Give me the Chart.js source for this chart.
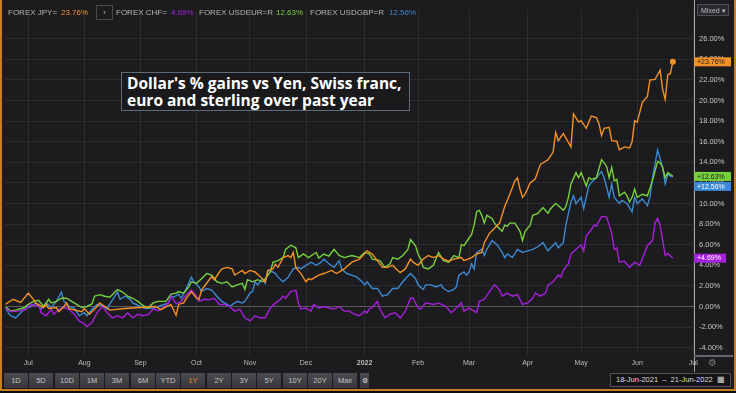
<!DOCTYPE html>
<html>
<head>
<meta charset="utf-8">
<script src="https://cdn.jsdelivr.net/npm/chart.js@4.4.0/dist/chart.umd.min.js"></script>
<style>
body { margin:0; background:#0d0d0d; width:736px; height:393px; overflow:hidden; font-family:"Liberation Sans", Arial, sans-serif; }
#bg { position:absolute; left:0; top:0; width:736px; height:391px; background:#1c1c1f; }
#chart { position:absolute; left:0; top:0; }
#frame { position:absolute; left:0; top:0; width:732px; height:389px; border-left:2px solid #c97d25; border-right:2px solid #c97d25; border-bottom:2px solid #c97d25; pointer-events:none; }
.hd { position:absolute; top:8px; font-size:8px; color:#b4b4b4; white-space:nowrap; }
#back { position:absolute; left:96px; top:5px; width:15px; height:13px; border:1px solid #4a4a4e; color:#bbb; font-size:8px; text-align:center; line-height:13px; }
#mixed { position:absolute; left:697px; top:4px; height:12px; background:#2a2a2e; border:1px solid #4d4d52; color:#bbb; font-size:7px; line-height:12px; padding-left:3px; box-sizing:border-box; width:32px; }
#title { position:absolute; left:121px; top:72px; width:289px; height:39px; box-sizing:border-box; border:1px solid #5d6c78; background:#1a1a1c; color:#fff; font-family:"Open Sans", sans-serif; font-weight:700; font-size:15.5px; line-height:17px; padding:2px 0 0 5px; white-space:nowrap; overflow:hidden; }
.btn { position:absolute; top:373px; width:24px; height:15px; background:linear-gradient(#4a4a4f, #37373b); color:#c4c4c4; font-size:7.5px; text-align:center; line-height:15px; }
#dates { position:absolute; left:610px; top:373px; width:121px; height:14px; box-sizing:border-box; border:1px solid #505055; background:#141416; color:#dcdcdc; font-size:7.5px; line-height:12px; padding-left:5px; white-space:nowrap; }
#gear { position:absolute; left:708px; top:357px; color:#7a7a7e; font-size:10px; font-family:"DejaVu Sans", sans-serif; }
</style>
</head>
<body>
<div id="bg"></div>
<canvas id="chart" width="736" height="372"></canvas>
<div id="header"></div>
<div id="back">&lsaquo;</div>
<div id="mixed">Mixed &#9662;</div>
<div id="title">Dollar's % gains vs Yen, Swiss franc,<br>euro and sterling over past year</div>
<div id="buttons"></div>
<div id="gear">&#9881;</div>
<div id="dates">18-Jun-2021 &nbsp;&ndash;&nbsp; 21-Jun-2022 &nbsp;&#9638;</div>
<div id="frame"></div>
<script>
// x = weekday number counted from 18-Jun-2021, y = % change

const jpyDays = [0,3,6,9,11,12,15,16,17,20,21,23,24,25,30,31,33,36,37,41,47,53,59,61,65,67,68,70,71,73,75,76,77,80,81,82,84,85,87,89,90,92,93,94,96,98,100,102,103,105,106,107,109,111,112,113,114,116,118,119,120,123,125,128,130,133,136,139,142,144,146,148,150,152,154,155,157,159,160,162,164,166,168,170,172,174,176,179,180,183,185,187,188,190,192,194,196,198,200,201,202,203,204,206,208,210,213,215,216,217,219,222,223,225,226,228,230,232,233,234,235,237,238,240,241,243,245,246,247,248,250,252,253,255,257,258,259,260,261,262];
const jpyValues = [0.2,0.7,0.4,1.3,0.7,0.3,-0.1,0.2,-0.2,-0.1,-0.5,0,0.35,-0.2,-0.5,-0.2,-0.75,0,0.35,-0.35,-0.2,-0.1,0,-0.3,0.2,-0.85,0.2,0.35,0.8,1.45,0.8,0.7,1.6,2.6,2.9,2.6,3.35,3.65,3.8,3.65,3.05,3.35,3.5,3.2,3.5,3.35,2.9,2.4,3.5,3.65,4.1,3.8,4.75,4.95,4.75,5.25,3.8,3.2,2.4,2.7,2.6,3.05,3.2,3.5,3.2,3.65,4.3,4.6,5.4,5.1,4.45,3.8,3.8,4.0,3.5,3.3,3.65,4.6,4.3,4.0,4.6,4.95,4.75,4.95,4.6,4.4,4.6,4.75,4.45,4.75,5.1,5.25,6.2,7.1,7.6,8.1,9.7,10.9,12.2,12.5,11.4,10.6,10.9,12.0,12.4,13.8,14.25,15.0,16.9,16.1,16.8,15.5,18.7,17.9,18.05,17.3,18.5,18.35,17.75,16.6,17.3,17.4,16.1,16.05,15.2,15.5,15.4,16.0,18.05,17.9,19.8,20.4,22.0,22.05,22.95,21.05,20.1,22.5,22.6,23.76];

const chfDays = [0,2,5,8,10,12,13,14,16,18,19,21,23,25,27,29,31,32,34,36,38,40,42,44,46,48,50,52,54,56,58,60,62,64,65,67,69,71,73,75,76,78,80,82,84,86,88,90,92,94,96,98,100,102,103,104,106,108,109,110,112,114,115,116,118,120,121,123,125,127,129,131,133,135,137,139,141,142,143,144,146,147,149,151,153,155,157,159,160,162,163,165,168,170,173,175,177,179,180,182,185,186,188,190,192,194,195,197,199,201,203,205,207,208,210,212,213,215,217,218,219,221,222,224,226,227,228,230,231,232,234,236,238,239,240,241,243,245,247,249,251,252,254,255,256,257,259,260,262];
const chfValues = [-0.15,-0.5,-0.45,-0.3,0.25,0,0.25,-0.6,-0.9,-0.25,-0.75,-0.25,-0.1,-0.3,-0.75,-1.4,-1.7,-1.95,-1.55,-0.6,0,-0.6,-1.1,-0.9,-1.1,-0.6,-1.1,-0.75,-0.9,-0.8,-0.25,-0.4,-0.1,0.35,1.0,0.25,0.5,1.15,1.6,1.0,0.5,0.7,0.65,0.8,0.2,0.2,0,-0.45,-0.25,-1.1,-1.4,-0.9,-1.1,-1.1,-0.6,-0.15,0.35,0.7,1.0,0.8,1.45,1.6,0.35,-0.25,-0.15,-0.45,0.2,-0.15,0,-0.15,-0.25,0,-0.45,-0.45,-0.75,-0.9,-0.45,-0.6,-0.2,-0.1,0.5,-0.25,-1.1,-0.75,-0.6,-1.1,-0.45,0.8,0.8,-0.15,-0.25,0.35,0.2,0.35,0,-0.6,-0.15,0.35,-0.45,-0.15,-0.6,0.5,0.7,1.45,2.1,1.6,1.0,1.3,1.0,1.15,0.2,0.35,0.8,1.3,1.0,1.3,2.1,2.4,3.05,2.85,3.5,4.15,5.1,5.55,6.0,5.4,6.85,7.45,7.9,7.8,8.75,8.7,7.1,5.55,5.7,4.3,4.4,3.8,4.3,4.0,5.25,5.9,6.4,8.1,8.55,7.9,4.95,5.15,4.69];

const eurDays = [0,2,4,7,9,11,13,15,17,18,20,22,24,26,28,30,32,34,35,37,39,41,43,44,46,48,50,52,54,56,58,60,63,65,67,68,70,72,73,75,77,79,81,83,85,87,89,91,93,94,95,97,99,101,102,104,105,107,109,110,112,114,115,117,119,121,122,123,125,127,129,131,133,136,139,141,143,144,147,149,151,152,154,156,158,159,161,162,163,164,166,168,170,172,174,176,178,179,180,182,183,184,185,186,187,188,189,191,192,193,195,196,197,198,200,202,203,204,206,207,209,211,213,214,216,217,219,220,221,222,224,225,226,228,229,230,232,234,235,236,237,238,239,240,241,243,244,245,246,247,248,250,252,254,256,257,258,259,260,262];
const eurValues = [0,-0.45,-0.35,-0.15,0.2,0.5,0.6,0,0.7,0.35,0.5,0.8,0.8,0.5,0.2,-0.1,0,0.25,1.0,1.15,1.0,0.9,1.4,1.65,1.4,1.0,0.8,0.5,0.1,-0.15,0.35,0.5,0.5,1.2,1.3,1.45,1.3,1.9,2.4,2.25,2.7,3.2,3.05,2.4,2.25,2.4,1.9,2.1,2.25,1.65,2.6,2.4,2.6,2.4,2.7,3.35,4.3,4.45,4.75,5.55,5.95,5.7,4.75,5.1,4.75,5.1,5.25,4.7,5.1,4.9,5.55,4.95,4.75,4.95,4.75,5.25,5.1,4.6,4.45,3.8,4.15,4.75,4.6,4.95,5.55,6.5,5.9,5.1,4.6,3.8,3.65,4.0,5.25,4.45,4.3,4.95,4.75,6.0,5.9,6.65,7.0,7.9,9.2,9.35,8.85,8.1,8.85,8.55,8.1,7.8,7.3,7.9,7.8,8.1,8.1,7.3,6.4,7.3,7.9,8.85,9.05,9.6,9.05,9.5,10.0,9.8,9.35,9.7,10.6,11.9,13.0,12.5,13.0,11.7,12.5,12.35,12.5,14.25,13.95,13.6,12.5,13.5,12.2,12.35,10.75,11.1,10.75,10.15,10.6,11.4,10.6,10.9,10.75,12.2,14.1,13.95,13.5,12.5,13.0,12.63];

const gbpDays = [0,2,4,6,8,10,12,14,16,18,20,22,23,25,27,29,31,32,34,36,38,40,41,43,44,45,47,49,50,53,55,58,60,64,65,66,68,69,71,73,74,76,77,79,81,83,85,87,88,90,91,93,94,96,97,98,99,101,102,103,105,106,107,109,111,113,115,116,118,120,122,124,125,127,129,131,132,134,136,138,140,141,142,144,146,148,150,152,154,156,157,159,161,162,164,165,167,169,171,172,174,176,177,178,180,181,182,183,184,185,187,188,189,191,193,195,196,197,199,201,203,205,207,209,211,213,214,216,217,219,220,221,222,223,224,226,227,229,230,232,234,235,236,237,238,239,241,242,244,246,247,248,250,252,253,254,256,258,259,260,262];
const gbpValues = [-0.15,-0.9,-1.1,-0.6,-0.15,0,0.35,-0.25,0.35,-0.1,0.5,1.4,0.5,0,-0.15,-0.9,-0.6,-0.9,-0.25,0.2,0.1,-0.25,0.25,1.0,1.4,0.7,1.0,0.7,0.35,0,-0.2,-0.15,0,0.35,1.0,0.9,1.2,0.8,1.75,2.85,2.4,1.9,1.45,1.75,1.6,1.0,0.5,0.2,0,0.35,0.5,0.35,0.5,1.3,1.45,2.4,2.1,2.7,2.25,3.5,3.35,3.2,2.85,2.4,2.85,3.65,3.8,3.65,4.0,4.3,4.0,4.3,4.6,4.15,3.8,4.45,3.65,3.2,3.05,2.85,2.4,2.1,2.4,1.75,1.75,1.0,1.15,1.75,1.75,2.4,2.7,3.2,2.7,2.1,1.65,2.1,2.1,1.9,2.1,1.75,1.45,1.65,1.9,3.05,3.35,3.05,3.35,4.15,3.65,5.25,5.55,4.95,5.55,6.4,6.0,5.25,4.75,5.1,4.75,5.55,5.25,5.4,5.55,5.8,6.2,5.4,5.7,6.2,5.7,6.2,7.9,9.05,10.15,10.75,10.0,10.6,9.5,11.7,12.05,12.5,13.1,12.5,11.6,10.6,11.9,10.6,10.0,10.3,10.0,9.2,10.6,10.0,10.45,9.8,10.6,12.5,15.2,13.5,11.9,12.8,12.56];

const seriesNames = ['FOREX JPY=', 'FOREX CHF=', 'FOREX USDEUR=R', 'FOREX USDGBP=R'];
const seriesColors = ['#f39126', '#a620dc', '#77d13d', '#3b89d2'];

const monthDays = [9, 31, 53, 75, 96, 118, 141, 162, 182, 205, 226, 248, 270];
const monthLabels = ['Jul', 'Aug', 'Sep', 'Oct', 'Nov', 'Dec', '2022', 'Feb', 'Mar', 'Apr', 'May', 'Jun', 'Jul'];
const yTicks = [-4, -2, 0, 2, 4, 6, 8, 10, 12, 14, 16, 18, 20, 22, 24, 26];

const rangeButtons = ['1D', '5D', '10D', '1M', '3M', '6M', 'YTD', '1Y', '2Y', '3Y', '5Y', '10Y', '20Y', 'Max'];

const allDays = [jpyDays, chfDays, eurDays, gbpDays];
const allValues = [jpyValues, chfValues, eurValues, gbpValues];

function toPoints(days, values) {
    return days.map((d, i) => ({ x: d, y: values[i] }));
}

//header legend
const header = document.getElementById('header');
const nameLeft = [8, 116, 199, 310];
const valueLeft = [61, 171, 276, 389];
seriesNames.forEach((name, i) => {
    const vals = allValues[i];
    header.innerHTML += `<span class="hd" style="left:${nameLeft[i]}px">${name}</span>` +
        `<span class="hd" style="left:${valueLeft[i]}px;color:${seriesColors[i]}">${vals[vals.length - 1].toFixed(2)}%</span>`;
});

//range buttons
const buttons = document.getElementById('buttons');
rangeButtons.forEach((b, i) => {
    const col = b === '1Y' ? '#f08a2a' : '#c4c4c4';
    buttons.innerHTML += `<div class="btn" style="left:${Math.round(4 + i * 25.33)}px;color:${col}">${b}</div>`;
});
buttons.innerHTML += `<div class="btn" style="left:360px;width:9px;font-size:7px;color:#ddd">&#9881;</div>`;

// value tags on the right axis + axis line extensions
const tagPlugin = {
    id: 'tags',
    afterDraw(chart) {
        const ctx = chart.ctx;
        const y = chart.scales.y;
        const area = chart.chartArea;
        ctx.save();
        ctx.strokeStyle = '#a8a8a8';
        ctx.lineWidth = 1;
        ctx.beginPath();
        ctx.moveTo(area.right + 0.5, 0);
        ctx.lineTo(area.right + 0.5, 372);
        ctx.stroke();
        ctx.strokeStyle = '#67676b';
        ctx.lineWidth = 2;
        ctx.beginPath();
        ctx.moveTo(area.right, area.bottom + 1);
        ctx.lineTo(733, area.bottom + 1);
        ctx.stroke();

        let tags = allValues.map((vals, i) => {
            const v = vals[vals.length - 1];
            return { v: v, y: y.getPixelForValue(v), color: seriesColors[i], i: i };
        });
        tags.sort((a, b) => a.y - b.y);
        let lastBottom = -100;
        tags.forEach(t => {
            let top = t.y - 4.5;
            if (top < lastBottom + 1) top = lastBottom + 1;
            lastBottom = top + 9;
            const w = t.i === 1 ? 32 : 37;
            ctx.fillStyle = t.color;
            ctx.fillRect(area.right, top, w, 9);
            ctx.fillStyle = (t.i === 0 || t.i === 2) ? '#1a1a1a' : '#ffffff';
            ctx.font = '7px "Liberation Sans", Arial, sans-serif';
            ctx.textBaseline = 'middle';
            ctx.fillText('+' + t.v.toFixed(2) + '%', area.right + 3, top + 4.8);
        });
        ctx.restore();
    }
};

const chart = new Chart(document.getElementById('chart'), {
    type: 'line',
    data: {
        datasets: allDays.map((days, i) => ({
            label: seriesNames[i],
            data: toPoints(days, allValues[i]),
            borderColor: seriesColors[i],
            backgroundColor: seriesColors[i],
            borderWidth: 1.4,
            tension: 0,
            pointRadius: ctx => (i === 0 && ctx.dataIndex === days.length - 1) ? 2.3 : 0
        }))
    },
    options: {
        responsive: false,
        devicePixelRatio: 1,
        animation: false,
        layout: { padding: { left: 2, top: 1, right: 0, bottom: 0 } },
        scales: {
            x: {
                type: 'linear',
                min: 0,
                max: 270.3,
                afterBuildTicks: s => { s.ticks = monthDays.map(v => ({ value: v })); },
                afterFit: s => { s.height = 17; },
                ticks: {
                    callback: (v, i) => monthLabels[i],
                    color: '#bdbdbd',
                    font: ctx => ({ size: 7, family: '"Liberation Sans", Arial', weight: ctx.index === 6 ? 'bold' : 'normal' }),
                    maxRotation: 0,
                    autoSkip: false,
                    padding: 4
                },
                grid: { color: '#2c2c30', drawTicks: false },
                border: { display: false }
            },
            y: {
                position: 'right',
                min: -4.71,
                max: 28.84,
                afterBuildTicks: s => { s.ticks = yTicks.map(v => ({ value: v })); },
                afterFit: s => { s.width = 42; },
                ticks: {
                    callback: v => v.toFixed(2) + '%',
                    color: '#c6c6c6',
                    font: { size: 7.5, family: '"Liberation Sans", Arial' },
                    padding: 5
                },
                grid: {
                    color: ctx => ctx.tick && ctx.tick.value === 0 ? '#5a5a5e' : '#2c2c30',
                    drawTicks: false
                },
                border: { display: false }
            }
        },
        plugins: {
            legend: { display: false },
            tooltip: { enabled: false }
        }
    },
    plugins: [tagPlugin]
});
</script>
</body>
</html>
